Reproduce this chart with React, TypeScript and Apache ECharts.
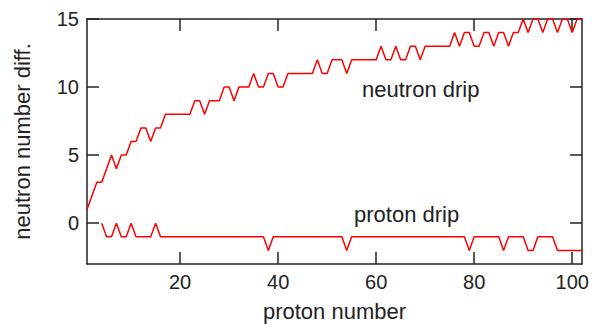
import React, { useEffect, useRef } from "react";
import * as echarts from "echarts";

// Neutron drip line: values for proton numbers starting at neutronStartZ
const neutronStartZ = 1;
const neutronDrip = [
  1, 2, 3, 3, 4, 5, 4, 5, 5, 6,
  6, 7, 7, 6, 7, 7, 8, 8, 8, 8,
  8, 8, 9, 9, 8, 9, 9, 9, 10, 10,
  9, 10, 10, 10, 11, 10, 10, 11, 11, 10,
  10, 11, 11, 11, 11, 11, 11, 12, 11, 11,
  12, 12, 12, 11, 12, 12, 12, 12, 12, 12,
  13, 12, 12, 13, 12, 12, 13, 13, 12, 13,
  13, 13, 13, 13, 13, 14, 13, 14, 14, 13,
  13, 14, 14, 13, 14, 14, 13, 14, 14, 15,
  14, 15, 15, 14, 15, 15, 14, 15, 15, 14,
  15, 15,
];

// Proton drip line: values for proton numbers starting at protonStartZ
const protonStartZ = 4;
const protonDrip = [
  0, -1, -1, 0, -1, -1, 0, -1, -1, -1,
  -1, 0, -1, -1, -1, -1, -1, -1, -1, -1,
  -1, -1, -1, -1, -1, -1, -1, -1, -1, -1,
  -1, -1, -1, -1, -2, -1, -1, -1, -1, -1,
  -1, -1, -1, -1, -1, -1, -1, -1, -1, -1,
  -2, -1, -1, -1, -1, -1, -1, -1, -1, -1,
  -1, -1, -1, -1, -1, -1, -1, -1, -1, -1,
  -1, -1, -1, -1, -1, -2, -1, -1, -1, -1,
  -1, -1, -2, -1, -1, -1, -1, -2, -2, -1,
  -1, -1, -1, -2, -2, -2, -2, -2, -2,
];

const xTicks = [20, 40, 60, 80, 100];
const yTicks = [0, 5, 10, 15];
const xRange = [1, 102];
const yRange = [-3, 15];

const FONT = "Liberation Sans, Arial, Helvetica, sans-serif";
const AXIS_COLOR = "#222";
const TEXT_COLOR = "#222";

export default function App() {
  const ref = useRef<HTMLDivElement>(null);

  useEffect(() => {
    if (!ref.current) return;
    const chart = echarts.init(ref.current, undefined, { renderer: "svg" });

    const neutronData = neutronDrip.map((v, i) => [neutronStartZ + i, v]);
    const protonData = protonDrip.map((v, i) => [protonStartZ + i, v]);

    const axisLine = { show: true, onZero: false, lineStyle: { color: AXIS_COLOR, width: 1.5 } };
    const tickStyle = { color: AXIS_COLOR, width: 1.5 };

    const xBase = {
      type: "value" as const,
      min: xRange[0],
      max: xRange[1],
      axisLine,
      splitLine: { show: false },
    };
    const yBase = {
      type: "value" as const,
      min: yRange[0],
      max: yRange[1],
      axisLine,
      splitLine: { show: false },
    };

    chart.setOption({
      animation: false,
      textStyle: { fontFamily: FONT },
      grid: { left: 87, right: 16, top: 19, bottom: 63, containLabel: false },
      xAxis: [
        {
          ...xBase,
          position: "bottom",
          name: "proton number",
          nameLocation: "middle",
          nameGap: 36,
          nameTextStyle: { fontSize: 22, color: TEXT_COLOR, fontFamily: FONT },
          axisTick: { show: true, inside: true, length: 12, lineStyle: tickStyle, customValues: xTicks },
          axisLabel: { show: true, margin: 8, fontSize: 20, color: TEXT_COLOR, fontFamily: FONT, customValues: xTicks },
        },
        {
          ...xBase,
          position: "top",
          axisTick: { show: true, inside: true, length: 12, lineStyle: tickStyle, customValues: xTicks },
          axisLabel: { show: false },
        },
      ],
      yAxis: [
        {
          ...yBase,
          position: "left",
          name: "neutron number diff.",
          nameLocation: "middle",
          nameGap: 54,
          nameTextStyle: { fontSize: 22, color: TEXT_COLOR, fontFamily: FONT },
          axisTick: { show: true, inside: true, length: 12, lineStyle: tickStyle, customValues: yTicks },
          axisLabel: { show: true, margin: 8, fontSize: 20, color: TEXT_COLOR, fontFamily: FONT, customValues: yTicks },
        },
        {
          ...yBase,
          position: "right",
          axisTick: { show: true, inside: true, length: 12, lineStyle: tickStyle, customValues: yTicks },
          axisLabel: { show: false },
        },
      ],
      series: [
        {
          name: "neutron drip",
          type: "line",
          xAxisIndex: 0,
          yAxisIndex: 0,
          data: neutronData,
          showSymbol: false,
          symbol: "none",
          lineStyle: { color: "#ff0000", width: 1.5 },
          z: 1,
        },
        {
          name: "proton drip",
          type: "line",
          xAxisIndex: 0,
          yAxisIndex: 0,
          data: protonData,
          showSymbol: false,
          symbol: "none",
          lineStyle: { color: "#ff0000", width: 1.5 },
          z: 1,
        },
      ],
      graphic: [
        {
          type: "text",
          x: 362,
          y: 89,
          style: {
            text: "neutron drip",
            fontSize: 22,
            fontFamily: FONT,
            fill: TEXT_COLOR,
            verticalAlign: "middle",
            align: "left",
          },
        },
        {
          type: "text",
          x: 354,
          y: 214,
          style: {
            text: "proton drip",
            fontSize: 22,
            fontFamily: FONT,
            fill: TEXT_COLOR,
            verticalAlign: "middle",
            align: "left",
          },
        },
      ],
    });

    return () => chart.dispose();
  }, []);

  return (
    <div
      ref={ref}
      style={{ position: "fixed", left: 0, top: 0, width: 598, height: 327, background: "#fff" }}
    />
  );
}
